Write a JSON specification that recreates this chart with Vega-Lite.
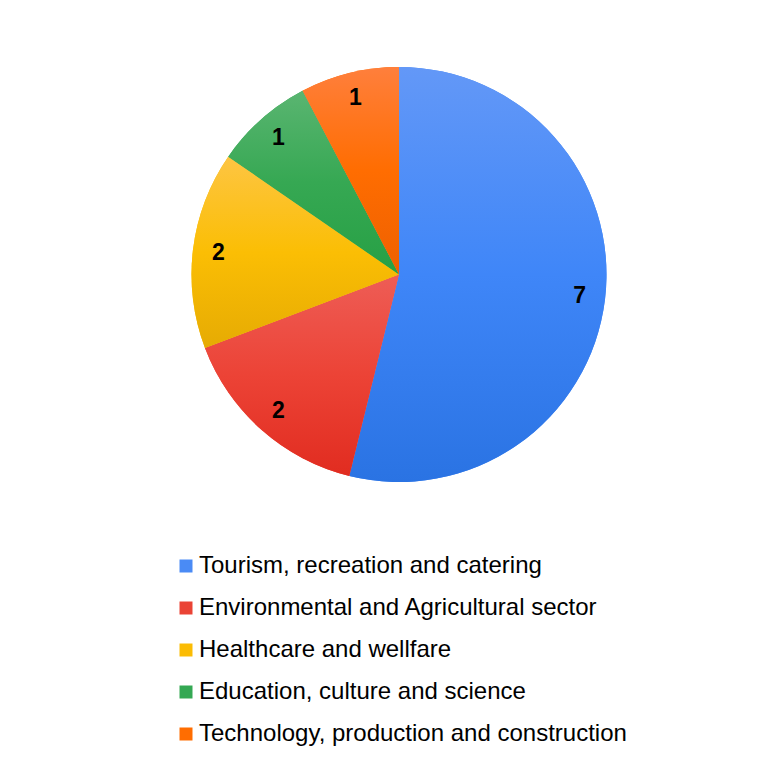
{
  "$schema": "https://vega.github.io/schema/vega-lite/v6.json",
  "autosize": "none",
  "width": 748,
  "height": 549,
  "padding": {"left": 25, "top": 0, "right": 0, "bottom": 215},
  "background": "#ffffff",
  "config": {"view": {"stroke": null}, "font": "Liberation Sans"},
  "data": {"values": [
    {"category": "Tourism, recreation and catering", "value": 7, "order": 1},
    {"category": "Environmental and Agricultural sector", "value": 2, "order": 2},
    {"category": "Healthcare and wellfare", "value": 2, "order": 3},
    {"category": "Education, culture and science", "value": 1, "order": 4},
    {"category": "Technology, production and construction", "value": 1, "order": 5}
  ]},
  "transform": [
    {"stack": "value", "groupby": [], "sort": [{"field": "order", "order": "ascending"}], "as": ["start", "end"]}
  ],
  "layer": [
    {
      "mark": {"type": "arc", "outerRadius": 207.5},
      "encoding": {
        "theta": {"field": "start", "type": "quantitative", "stack": null},
        "theta2": {"field": "end"},
        "color": {
          "field": "category", "type": "nominal",
          "scale": {
            "domain": ["Tourism, recreation and catering", "Environmental and Agricultural sector", "Healthcare and wellfare", "Education, culture and science", "Technology, production and construction"],
            "range": ["#4a8bf5", "#ea4335", "#fbbc04", "#34a853", "#ff6d01"]
          },
          "legend": {
            "orient": "none", "legendX": 149, "legendY": 554, "title": null,
            "symbolType": "square", "symbolSize": 169, "symbolStrokeWidth": 0,
            "labelFontSize": 24, "labelFont": "Liberation Sans", "labelColor": "#000000",
            "rowPadding": 18, "labelOffset": 1, "padding": 0, "labelLimit": 700
          }
        }
      }
    },
    {
      "transform": [{"filter": {"field": "category", "equal": "Tourism, recreation and catering"}}],
      "mark": {"type": "arc", "outerRadius": 207.5, "fill": {"gradient": "linear", "x1": 0, "y1": 0, "x2": 0, "y2": 1, "stops": [{"offset": 0, "color": "#6398f7"}, {"offset": 0.5, "color": "#3f86f8"}, {"offset": 1, "color": "#2a73e3"}]}},
      "encoding": {"theta": {"field": "start", "type": "quantitative", "stack": null}, "theta2": {"field": "end"}}
    },
    {
      "transform": [{"filter": {"field": "category", "equal": "Environmental and Agricultural sector"}}],
      "mark": {"type": "arc", "outerRadius": 207.5, "fill": {"gradient": "linear", "x1": 0, "y1": 0, "x2": 0, "y2": 1, "stops": [{"offset": 0, "color": "#ee5d56"}, {"offset": 0.5, "color": "#ec4336"}, {"offset": 1, "color": "#e12c20"}]}},
      "encoding": {"theta": {"field": "start", "type": "quantitative", "stack": null}, "theta2": {"field": "end"}}
    },
    {
      "transform": [{"filter": {"field": "category", "equal": "Healthcare and wellfare"}}],
      "mark": {"type": "arc", "outerRadius": 207.5, "fill": {"gradient": "linear", "x1": 0, "y1": 0, "x2": 0, "y2": 1, "stops": [{"offset": 0, "color": "#fdc543"}, {"offset": 0.5, "color": "#fbbe04"}, {"offset": 1, "color": "#e6ab03"}]}},
      "encoding": {"theta": {"field": "start", "type": "quantitative", "stack": null}, "theta2": {"field": "end"}}
    },
    {
      "transform": [{"filter": {"field": "category", "equal": "Education, culture and science"}}],
      "mark": {"type": "arc", "outerRadius": 207.5, "fill": {"gradient": "linear", "x1": 0, "y1": 0, "x2": 0, "y2": 1, "stops": [{"offset": 0, "color": "#5ab571"}, {"offset": 0.5, "color": "#36a853"}, {"offset": 1, "color": "#26a044"}]}},
      "encoding": {"theta": {"field": "start", "type": "quantitative", "stack": null}, "theta2": {"field": "end"}}
    },
    {
      "transform": [{"filter": {"field": "category", "equal": "Technology, production and construction"}}],
      "mark": {"type": "arc", "outerRadius": 207.5, "fill": {"gradient": "linear", "x1": 0, "y1": 0, "x2": 0, "y2": 1, "stops": [{"offset": 0, "color": "#ff7f3c"}, {"offset": 0.5, "color": "#ff6d01"}, {"offset": 1, "color": "#ee6000"}]}},
      "encoding": {"theta": {"field": "start", "type": "quantitative", "stack": null}, "theta2": {"field": "end"}}
    },
    {
      "mark": {"type": "text", "radius": 182, "fontSize": 23, "fontWeight": "bold", "font": "Liberation Sans", "color": "#000000", "align": "center", "baseline": "middle"},
      "encoding": {
        "theta": {"field": "value", "type": "quantitative", "stack": true},
        "detail": {"field": "category", "type": "nominal"},
        "order": {"field": "order", "type": "quantitative", "sort": "ascending"},
        "text": {"field": "value", "type": "quantitative"}
      }
    }
  ]
}
